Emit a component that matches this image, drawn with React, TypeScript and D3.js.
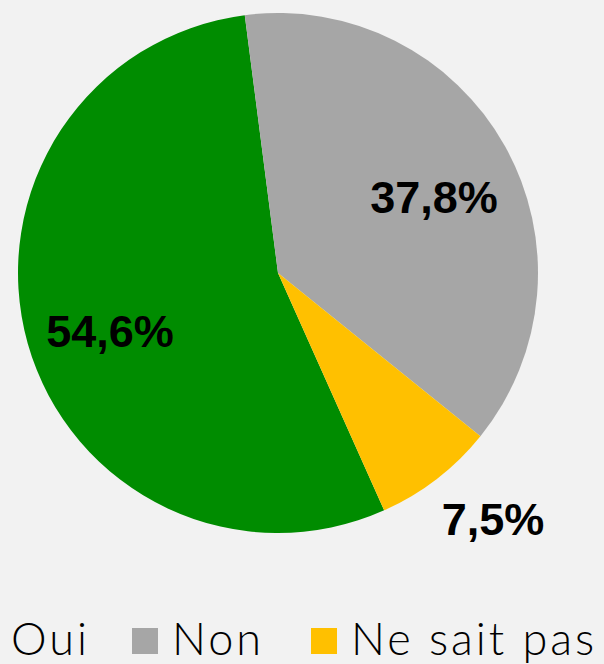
import React from "react";
import * as d3 from "d3";

const categories = ["Oui", "Non", "Ne sait pas"];
const values = [54.6, 37.8, 7.5];
const labels = ["54,6%", "37,8%", "7,5%"];
const colors = ["#008c00", "#a6a6a6", "#ffc000"];

const W = 604;
const H = 664;
const cx = 278;
const cy = 273;
const R = 260;

// label positions (centre x, baseline y)
const labelPos: [number, number][] = [
  [110, 347],
  [434, 213],
  [493, 535],
];

const legendTextX = [11, 172, 351];

export default function App() {
  const start = (155.9 * Math.PI) / 180;
  const pie = d3
    .pie<number>()
    .sort(null)
    .value((d) => d)
    .startAngle(start)
    .endAngle(start + 2 * Math.PI);
  const arcs = pie(values);
  const arc = d3.arc<d3.PieArcDatum<number>>().innerRadius(0).outerRadius(R);

  return (
    <div style={{ position: "absolute", left: 0, top: 0, width: W, height: H }}>
      <svg width={W} height={H} style={{ display: "block" }}>
        <rect x={0} y={0} width={W} height={H} fill="#f2f2f2" />
        <g transform={`translate(${cx},${cy})`}>
          {arcs.map((a, i) => (
            <path key={categories[i]} d={arc(a) || ""} fill={colors[i]} />
          ))}
        </g>
        {labels.map((t, i) => (
          <text
            key={t}
            x={labelPos[i][0]}
            y={labelPos[i][1]}
            textAnchor="middle"
            fontFamily="'Liberation Sans', Arial, sans-serif"
            fontWeight="bold"
            fontSize={45}
            fill="#000"
          >
            {t}
          </text>
        ))}
        {categories.map((c, i) => (
          <g key={c}>
            <rect
              x={legendTextX[i] - 40}
              y={628}
              width={26}
              height={26}
              fill={colors[i]}
            />
            <text
              x={legendTextX[i]}
              y={655}
              fontFamily="Lato, 'Open Sans', sans-serif"
              fontWeight={300}
              fontSize={45}
              letterSpacing={3}
              fill="#000"
            >
              {c}
            </text>
          </g>
        ))}
      </svg>
    </div>
  );
}
